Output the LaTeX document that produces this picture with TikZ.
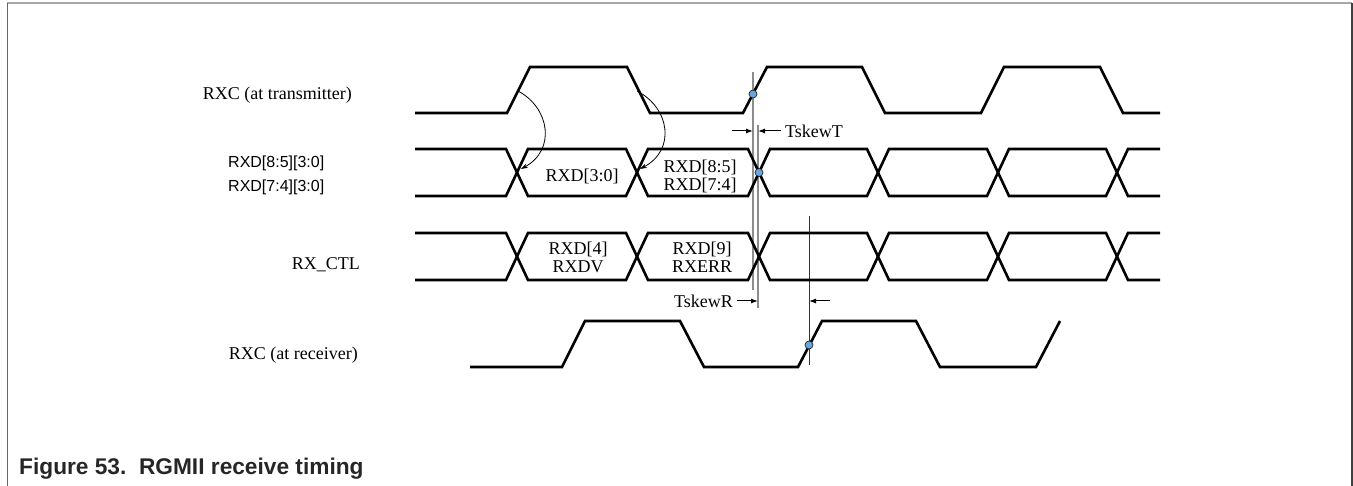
\documentclass[tikz,border=0pt]{standalone}
\usepackage{fontspec}
\setmainfont{Liberation Serif}
\newfontfamily\helv{Liberation Sans}
\usetikzlibrary{arrows.meta}
\definecolor{probeblue}{RGB}{104,164,222}
\begin{document}
\begin{tikzpicture}[x=1pt,y=-1pt,
  signal/.style={line width=2.6pt},
  guide/.style={line width=1.6pt,draw=black!45},
  skew/.style={line width=1pt,-{Latex[length=7pt,width=5pt]}},
  launch/.style={line width=0.8pt,-{Stealth[length=7pt,width=4.5pt]}},
  probe/.style={circle,draw=black!85,line width=0.7pt,fill=probeblue,inner sep=0pt,minimum size=8pt},
  lbl/.style={font=\fontsize{18}{18}\selectfont,align=center,inner sep=0pt}]
  \useasboundingbox (0,0) rectangle (1353,486);
  % frame
  \draw[black!35,line width=2pt] (7,3) -- (1352,3);
  \draw[black!60,line width=1pt] (7.5,3) -- (7.5,486);
  \draw[black!75,line width=2pt] (1352,3) -- (1352,486);
  % guide lines
  \draw[guide] (753,72) -- (753,290);
  \draw[guide] (758,125) -- (758,308);
  \draw[black!80,line width=1pt] (809,216) -- (809,365);
  % RXC at transmitter
  \draw[signal] (415,113) -- (507,113) -- (530,67) -- (627,67) -- (650,113) -- (743,113) -- (767,67)
    -- (862,67) -- (885,113) -- (981,113) -- (1004,67) -- (1100,67) -- (1123,113) -- (1160,113);
  % RXD bus
  \draw[signal] (415,149) -- (506,149) -- (528,196) -- (626,196) -- (648,149) -- (748,149) -- (770,196)
    -- (867,196) -- (889,149) -- (987,149) -- (1009,196) -- (1106,196) -- (1128,149) -- (1160,149);
  \draw[signal] (415,196) -- (506,196) -- (528,149) -- (626,149) -- (648,196) -- (748,196) -- (770,149)
    -- (867,149) -- (889,196) -- (987,196) -- (1009,149) -- (1106,149) -- (1128,196) -- (1160,196);
  % RX_CTL
  \draw[signal] (415,233) -- (506,233) -- (528,280) -- (626,280) -- (648,233) -- (748,233) -- (770,280)
    -- (867,280) -- (889,233) -- (987,233) -- (1009,280) -- (1106,280) -- (1128,233) -- (1160,233);
  \draw[signal] (415,280) -- (506,280) -- (528,233) -- (626,233) -- (648,280) -- (748,280) -- (770,233)
    -- (867,233) -- (889,280) -- (987,280) -- (1009,233) -- (1106,233) -- (1128,280) -- (1160,280);
  % RXC at receiver
  \draw[signal] (470,367) -- (562,367) -- (585,321) -- (680,321) -- (704,367) -- (798,367) -- (822,321)
    -- (916,321) -- (940,367) -- (1036,367) -- (1060,321);
  % launch arrows
  \draw[launch] (518,91) .. controls (550,108) and (556,150) .. (521,169);
  \draw[launch] (637,91) .. controls (670,108) and (676,150) .. (640,169);
  % sample points
  \node[probe] (txedge) at (753,94) {};
  \node[probe] (dcross) at (759,172.5) {};
  \node[probe] (rxedge) at (809,345) {};
  % data labels
  \node[lbl] (d30) at (582,176) {RXD[3:0]};
  \node[lbl] (d85) at (700,176) {RXD[8:5]\\RXD[7:4]};
  \node[lbl] (c4) at (578,257) {RXD[4]\\RXDV};
  \node[lbl] (c9) at (702,257) {RXD[9]\\RXERR};
  % skews
  \node[lbl,anchor=west] (tskewT) at (785,131) {TskewT};
  \draw[skew] (732,131) -- (753,131);
  \draw[skew] ([xshift=-4pt]tskewT.west) -- (758,131);
  \node[lbl,anchor=east] (tskewR) at (733,301) {TskewR};
  \draw[skew] ([xshift=4pt]tskewR.east) -- (758,301);
  \draw[skew] (830,301) -- (809,301);
  % signal names
  \node[lbl,anchor=east] (ntx) at (352,95) {RXC (at transmitter)};
  \node[anchor=west,inner sep=0pt,align=left,font=\helv\fontsize{16}{24}\selectfont] (nrxd) at (228,175)
    {RXD[8:5][3:0]\\RXD[7:4][3:0]};
  \node[lbl,anchor=east] (nctl) at (360,265) {RX\_CTL};
  \node[lbl,anchor=east] (nrx) at (358,355) {RXC (at receiver)};
  % caption
  \node[anchor=west,inner sep=0pt,text=black!85,font=\helv\bfseries\fontsize{22.7}{22.7}\selectfont] (cap) at (19,469)
    {Figure 53.\ \ RGMII receive timing};
\end{tikzpicture}
\end{document}
